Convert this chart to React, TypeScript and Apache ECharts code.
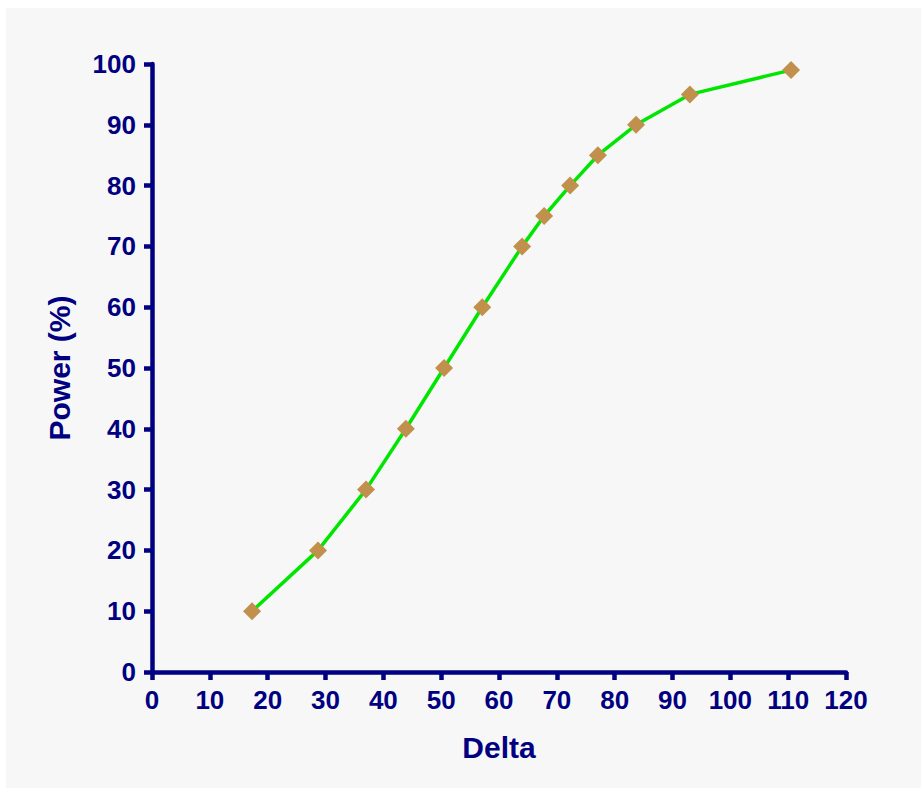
import React, { useEffect, useRef } from "react";
import * as echarts from "echarts";

const deltaValues: number[] = [17.3, 28.7, 37.0, 43.9, 50.5, 57.1, 64.0, 67.8, 72.3, 77.1, 83.7, 93.0, 110.5];
const powerValues: number[] = [10, 20, 30, 40, 50, 60, 70, 75, 80, 85, 90, 95, 99];
const xTicks: number[] = [0, 10, 20, 30, 40, 50, 60, 70, 80, 90, 100, 110, 120];
const yTicks: number[] = [0, 10, 20, 30, 40, 50, 60, 70, 80, 90, 100];

const NAVY = "#000080";

export default function App() {
  const ref = useRef<HTMLDivElement>(null);
  useEffect(() => {
    if (!ref.current) return;
    const chart = echarts.init(ref.current, null, { renderer: "svg" });
    const font = "Liberation Sans, Arial, sans-serif";
    chart.setOption({
      animation: false,
      backgroundColor: "#f7f7f7",
      grid: { left: 146, top: 56, width: 694, height: 608, containLabel: false },
      xAxis: {
        type: "value",
        min: xTicks[0],
        max: xTicks[xTicks.length - 1],
        interval: 10,
        name: "Delta",
        nameLocation: "middle",
        nameGap: 60,
        nameTextStyle: { color: NAVY, fontSize: 30, fontWeight: "bold", fontFamily: font },
        axisLine: { show: true, lineStyle: { color: NAVY, width: 4.5 } },
        axisTick: { show: true, inside: false, length: 8, lineStyle: { color: NAVY, width: 4.5 } },
        axisLabel: { color: NAVY, fontSize: 26, fontWeight: "bold", fontFamily: font, margin: 15 },
        splitLine: { show: false },
      },
      yAxis: {
        type: "value",
        min: yTicks[0],
        max: yTicks[yTicks.length - 1],
        interval: 10,
        name: "Power (%)",
        nameLocation: "middle",
        nameGap: 78,
        nameTextStyle: { color: NAVY, fontSize: 30, fontWeight: "bold", fontFamily: font },
        axisLine: { show: true, lineStyle: { color: NAVY, width: 4.5 } },
        axisTick: { show: true, inside: false, length: 8, lineStyle: { color: NAVY, width: 4.5 } },
        axisLabel: { color: NAVY, fontSize: 26, fontWeight: "bold", fontFamily: font, margin: 16 },
        splitLine: { show: false },
      },
      series: [
        {
          type: "line",
          data: deltaValues.map((d, i) => [d, powerValues[i]]),
          symbol: "diamond",
          symbolSize: 18,
          itemStyle: { color: "#c0904c" },
          lineStyle: { color: "#00e600", width: 3.5 },
          z: 3,
        },
      ],
    });
    return () => chart.dispose();
  }, []);
  return (
    <div
      ref={ref}
      style={{ position: "absolute", left: 6, top: 8, width: 915, height: 780, background: "#f7f7f7" }}
    />
  );
}
